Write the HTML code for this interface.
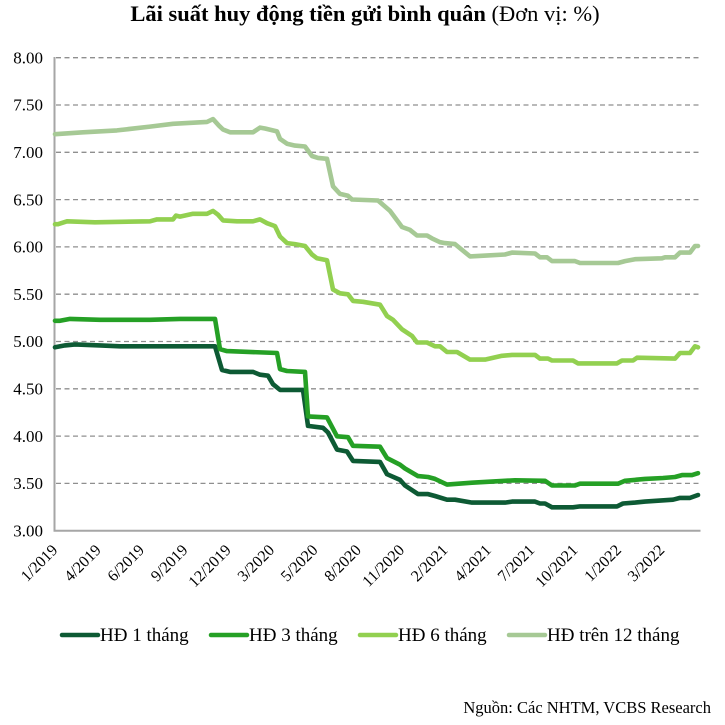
<!DOCTYPE html>
<html>
<head>
<meta charset="utf-8">
<style>
  html, body { margin:0; padding:0; background:#ffffff; }
  body { width:725px; height:725px; overflow:hidden; }
  svg { display:block; }
  text { font-family: "Liberation Serif", "Noto Serif CJK SC", serif; fill:#000; }
</style>
</head>
<body>
<svg width="725" height="725" viewBox="0 0 725 725" xmlns="http://www.w3.org/2000/svg">
  <rect x="0" y="0" width="725" height="725" fill="#ffffff"/>

  <!-- Title -->
  <text x="365" y="21" text-anchor="middle" font-size="22.5"><tspan font-weight="bold">Lãi suất huy động tiền gửi bình quân</tspan><tspan> (Đơn vị: %)</tspan></text>

  <!-- Gridlines -->
  <g stroke="#8f8f8f" stroke-width="1.3" stroke-dasharray="5 3.5" fill="none">
    <line x1="56" y1="57.7" x2="700" y2="57.7"/>
    <line x1="56" y1="105.0" x2="700" y2="105.0"/>
    <line x1="56" y1="152.3" x2="700" y2="152.3"/>
    <line x1="56" y1="199.6" x2="700" y2="199.6"/>
    <line x1="56" y1="246.9" x2="700" y2="246.9"/>
    <line x1="56" y1="294.2" x2="700" y2="294.2"/>
    <line x1="56" y1="341.5" x2="700" y2="341.5"/>
    <line x1="56" y1="388.8" x2="700" y2="388.8"/>
    <line x1="56" y1="436.1" x2="700" y2="436.1"/>
    <line x1="56" y1="483.4" x2="700" y2="483.4"/>
  </g>

  <!-- Axes -->
  <line x1="54.5" y1="57" x2="54.5" y2="531.5" stroke="#a6a6a6" stroke-width="2"/>
  <line x1="53.5" y1="530.7" x2="700.5" y2="530.7" stroke="#a6a6a6" stroke-width="2"/>

  <!-- Y labels -->
  <g font-size="17" text-anchor="end">
    <text x="43" y="63.4">8.00</text>
    <text x="43" y="110.7">7.50</text>
    <text x="43" y="158.0">7.00</text>
    <text x="43" y="205.3">6.50</text>
    <text x="43" y="252.6">6.00</text>
    <text x="43" y="299.9">5.50</text>
    <text x="43" y="347.2">5.00</text>
    <text x="43" y="394.5">4.50</text>
    <text x="43" y="441.8">4.00</text>
    <text x="43" y="489.1">3.50</text>
    <text x="43" y="536.4">3.00</text>
  </g>

  <!-- X labels -->
  <g font-size="16" text-anchor="end">
    <text transform="translate(58.5,551) rotate(-45)">1/2019</text>
    <text transform="translate(101.9,551) rotate(-45)">4/2019</text>
    <text transform="translate(145.2,551) rotate(-45)">6/2019</text>
    <text transform="translate(188.6,551) rotate(-45)">9/2019</text>
    <text transform="translate(231.9,551) rotate(-45)">12/2019</text>
    <text transform="translate(275.3,551) rotate(-45)">3/2020</text>
    <text transform="translate(318.6,551) rotate(-45)">5/2020</text>
    <text transform="translate(362.0,551) rotate(-45)">8/2020</text>
    <text transform="translate(405.3,551) rotate(-45)">11/2020</text>
    <text transform="translate(448.7,551) rotate(-45)">2/2021</text>
    <text transform="translate(492.0,551) rotate(-45)">4/2021</text>
    <text transform="translate(535.4,551) rotate(-45)">7/2021</text>
    <text transform="translate(578.7,551) rotate(-45)">10/2021</text>
    <text transform="translate(622.1,551) rotate(-45)">1/2022</text>
    <text transform="translate(665.4,551) rotate(-45)">3/2022</text>
  </g>

  <!-- Series -->
  <g fill="none" stroke-width="4.6" stroke-linejoin="round" stroke-linecap="round">
    <!-- HĐ 1 tháng -->
    <polyline stroke="#0d5a34" points="55,347.3 65,345.4 75,344.4 100,345.4 120,346.3 215,346.3 222,370.0 230,371.9 253,371.9 260,374.7 268,375.7 273,384.2 280,389.9 303,389.9 308,425.9 323,427.8 328,432.5 337,449.6 347,451.5 353,460.9 380,461.9 387,474.2 400,479.9 405,485.5 418,494.1 428,494.1 435,496.0 447,499.7 455,499.7 472,502.6 505,502.6 512,501.6 535,501.6 540,503.5 545,503.5 552,507.3 573,507.3 580,506.4 617,506.4 623,503.5 635,502.6 645,501.6 673,499.7 680,497.9 690,497.9 698,495.0"/>
    <!-- HĐ 3 tháng -->
    <polyline stroke="#25a025" points="55,320.8 60,320.8 70,318.9 100,319.8 150,319.8 180,318.9 215,318.9 220,349.2 227,351.1 277,353.0 280,369.1 287,371.0 305,371.9 308,416.4 327,417.4 337,436.3 348,437.2 353,445.8 380,446.7 387,458.1 400,464.7 405,468.5 418,476.1 428,477.0 435,478.9 447,484.6 472,482.7 505,480.8 515,480.3 545,480.8 552,485.5 575,485.5 580,483.7 618,483.7 625,480.8 645,478.9 663,478.0 675,477.0 682,475.1 692,475.1 698,473.2"/>
    <!-- HĐ 6 tháng -->
    <polyline stroke="#92d050" points="55,224.2 58,224.2 67,221.3 95,222.3 150,221.3 157,219.4 173,219.4 176,215.6 180,216.6 193,213.8 207,213.8 213,210.9 218,214.7 223,220.4 237,221.3 253,221.3 260,219.4 267,223.2 275,226.1 280,236.5 287,243.1 295,244.1 305,246.0 312,254.5 317,258.3 327,260.2 333,289.5 340,293.3 348,294.3 353,300.9 363,301.8 380,304.7 387,316.0 393,319.8 402,329.3 412,335.9 417,342.5 427,342.5 435,346.3 440,346.3 447,352.0 457,352.0 470,359.6 485,359.6 502,355.8 512,354.9 535,354.9 540,358.6 548,358.6 552,360.5 573,360.5 578,363.4 617,363.4 622,360.5 633,360.5 637,357.7 675,358.6 680,353.0 690,353.0 695,346.3 698,347.3"/>
    <!-- HĐ trên 12 tháng -->
    <polyline stroke="#a6c995" points="55,134.2 83,132.3 117,130.4 150,126.6 173,123.8 207,121.9 213,119.1 219,125.7 223,129.5 230,132.3 253,132.3 260,127.6 265,128.5 277,131.4 280,138.9 287,143.7 295,145.6 305,146.5 312,156.0 318,157.9 327,158.8 333,186.3 340,193.9 348,195.8 352,199.5 378,200.5 390,210.9 402,227.0 410,229.9 417,235.5 427,235.5 432,238.4 440,242.2 445,243.1 455,244.1 470,256.4 488,255.4 505,254.5 512,252.6 535,253.5 540,257.3 547,257.3 552,261.1 575,261.1 580,263.0 618,263.0 625,261.1 635,259.2 662,258.3 665,257.3 675,257.3 680,252.6 690,252.6 695,246.0 698,246.0"/>
  </g>

  <!-- Legend -->
  <g stroke-width="4.5" stroke-linecap="round">
    <line x1="62" y1="635" x2="98" y2="635" stroke="#0d5a34"/>
    <line x1="211" y1="635" x2="247" y2="635" stroke="#25a025"/>
    <line x1="360" y1="635" x2="396" y2="635" stroke="#92d050"/>
    <line x1="509" y1="635" x2="545" y2="635" stroke="#a6c995"/>
  </g>
  <g font-size="19">
    <text x="100" y="641">HĐ 1 tháng</text>
    <text x="249" y="641">HĐ 3 tháng</text>
    <text x="398" y="641">HĐ 6 tháng</text>
    <text x="547" y="641">HĐ trên 12 tháng</text>
  </g>

  <!-- Source -->
  <text x="711" y="713" text-anchor="end" font-size="16.5">Nguồn: Các NHTM, VCBS Research</text>
</svg>
</body>
</html>
